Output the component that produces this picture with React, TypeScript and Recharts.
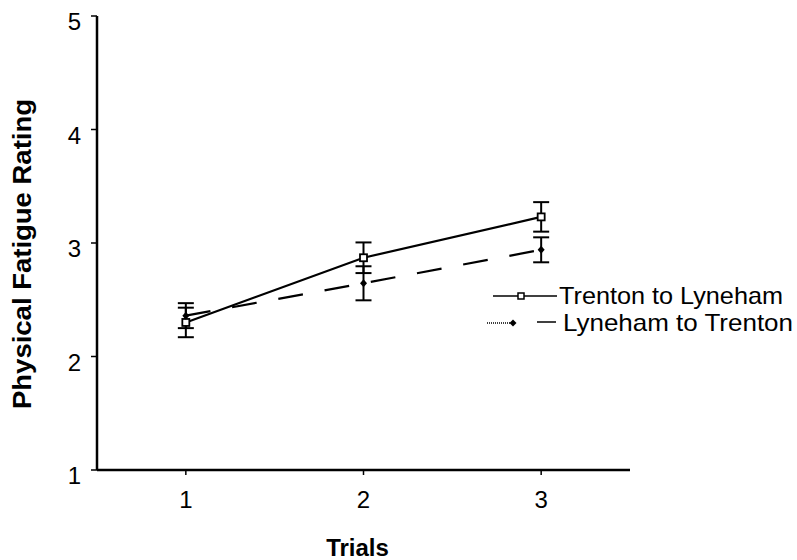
import React from 'react';
import { LineChart, Line, XAxis, YAxis, ErrorBar, Legend } from 'recharts';

const trials = [1, 2, 3];
const trentonMean = [2.3, 2.87, 3.23];
const trentonErr = [0.13, 0.135, 0.13];
const lynehamMean = [2.36, 2.645, 2.94];
const lynehamErr = [0.11, 0.15, 0.11];
const yTicks = [1, 2, 3, 4, 5];
const seriesNames = ['Trenton to Lyneham', 'Lyneham to Trenton'];
const xTitle = 'Trials';
const yTitle = 'Physical Fatigue Rating';

const data = trials.map((t, i) => ({
  trial: t,
  tMean: trentonMean[i],
  tErr: trentonErr[i],
  lMean: lynehamMean[i],
  lErr: lynehamErr[i],
}));

const FONT = '"Liberation Sans", Arial, Helvetica, sans-serif';

const SquareDot = (props: any) => {
  const { cx, cy } = props;
  if (cx == null || cy == null) return null;
  return <rect x={cx - 3.5} y={cy - 3.5} width={7} height={7} fill="#fff" stroke="#000" strokeWidth={1.8} />;
};

const DiamondDot = (props: any) => {
  const { cx, cy } = props;
  if (cx == null || cy == null) return null;
  return <path d={`M${cx},${cy - 4} L${cx + 3.5},${cy} L${cx},${cy + 4} L${cx - 3.5},${cy} Z`} fill="#000" />;
};

const YTick = (props: any) => {
  const { x, y, payload } = props;
  return (
    <text x={x - 1} y={y + 14} textAnchor="end" fontFamily={FONT} fontSize={24} fill="#000">
      {payload.value}
    </text>
  );
};

const XTick = (props: any) => {
  const { x, y, payload } = props;
  return (
    <text x={x} y={y + 31} textAnchor="middle" fontFamily={FONT} fontSize={24} fill="#000">
      {payload.value}
    </text>
  );
};

const XTitle = (props: any) => {
  const vb = props.viewBox || {};
  const cx = vb.x + vb.width / 2 - 6;
  return (
    <text x={cx} y={556} textAnchor="middle" fontFamily={FONT} fontSize={24} fontWeight="bold" fill="#000">
      {xTitle}
    </text>
  );
};

const YTitle = () => (
  <text
    x={0}
    y={0}
    transform="translate(31,254) rotate(-90)"
    textAnchor="middle"
    fontFamily={FONT}
    fontSize={25}
    fontWeight="bold"
    fill="#000"
    textLength={310}
    lengthAdjust="spacingAndGlyphs"
  >
    {yTitle}
  </text>
);

const LegendContent = () => (
  <svg width={310} height={60} style={{ overflow: 'visible' }}>
    <line x1={6} y1={16} x2={70} y2={16} stroke="#000" strokeWidth={1.5} />
    <rect x={31} y={13} width={6} height={6} fill="#fff" stroke="#000" strokeWidth={1.5} />
    <text x={72} y={24} fontFamily={FONT} fontSize={24} fill="#000" textLength={224} lengthAdjust="spacingAndGlyphs">
      {seriesNames[0]}
    </text>
    <line x1={0} y1={43} x2={26} y2={43} stroke="#000" strokeWidth={1.5} strokeDasharray="1 1" />
    <path d="M26,39.5 L29.5,43 L26,46.5 L22.5,43 Z" fill="#000" />
    <line x1={50} y1={42} x2={69} y2={42} stroke="#000" strokeWidth={1.5} />
    <text x={76} y={51} fontFamily={FONT} fontSize={24} fill="#000" textLength={230} lengthAdjust="spacingAndGlyphs">
      {seriesNames[1]}
    </text>
  </svg>
);

export default function App() {
  return (
    <div style={{ position: 'absolute', left: 0, top: 0, width: 797, height: 560, background: '#fff' }}>
      <LineChart width={797} height={560} data={data} margin={{ top: 16, right: 167, bottom: 60, left: 57 }}>
        <XAxis
          dataKey="trial"
          type="number"
          domain={[0.5, 3.5]}
          ticks={trials}
          height={30}
          axisLine={{ stroke: '#000', strokeWidth: 2.5 }}
          tickLine={{ stroke: '#000', strokeWidth: 1.5 }}
          tickSize={5}
          tick={<XTick />}
          label={<XTitle />}
        />
        <YAxis
          type="number"
          domain={[1, 5]}
          ticks={yTicks}
          width={40}
          axisLine={{ stroke: '#000', strokeWidth: 2.5 }}
          tickLine={{ stroke: '#000', strokeWidth: 1.5 }}
          tickSize={6}
          tickMargin={9}
          tick={<YTick />}
          label={<YTitle />}
        />
        <Line
          dataKey="tMean"
          name={seriesNames[0]}
          stroke="#000"
          strokeWidth={2.2}
          dot={<SquareDot />}
          activeDot={false}
          isAnimationActive={false}
        >
          <ErrorBar dataKey="tErr" width={8} stroke="#000" strokeWidth={2} direction="y" />
        </Line>
        <Line
          dataKey="lMean"
          name={seriesNames[1]}
          stroke="#000"
          strokeWidth={2.2}
          strokeDasharray="25 22"
          dot={<DiamondDot />}
          activeDot={false}
          isAnimationActive={false}
        >
          <ErrorBar dataKey="lErr" width={8} stroke="#000" strokeWidth={2} direction="y" />
        </Line>
        <Legend
          layout="vertical"
          align="center"
          verticalAlign="middle"
          content={<LegendContent />}
          wrapperStyle={{ position: 'absolute', left: 487, top: 280, width: 310, height: 60 }}
        />
      </LineChart>
    </div>
  );
}
